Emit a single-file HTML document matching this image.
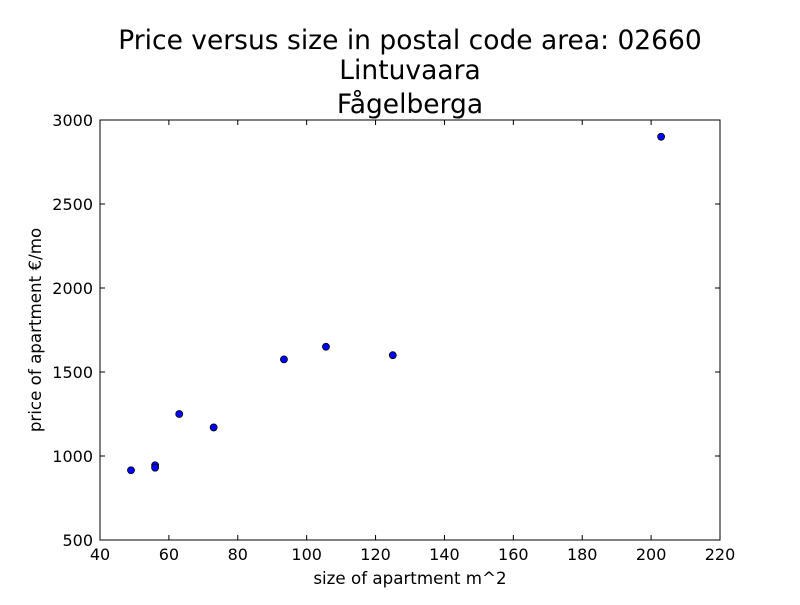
<!DOCTYPE html>
<html><head><meta charset="utf-8"><style>
body{margin:0;background:#fff}
svg text{font-family:"DejaVu Sans","Liberation Sans",sans-serif}
</style></head><body>
<svg width="800" height="600" viewBox="0 0 800 600">
<rect width="800" height="600" fill="#fff"/>
<g id="g"></g>
</svg>
<script>
const xs = [49, 56, 56, 63, 73, 93.4, 105.6, 125, 202.9];
const ys = [915, 945, 930, 1250, 1170, 1575, 1650, 1600, 2900];
const xTicks = [40,60,80,100,120,140,160,180,200,220];
const yTicks = [500,1000,1500,2000,2500,3000];
const L=100,R=720,T=120,B=540;
const sx=v=>L+(v-40)/180*(R-L);
const sy=v=>B-(v-500)/2500*(B-T);
const g=document.getElementById('g');
const NS='http://www.w3.org/2000/svg';
function mk(tag,attrs,txt){const e=document.createElementNS(NS,tag);for(const k in attrs)e.setAttribute(k,attrs[k]);if(txt!==undefined)e.textContent=txt;g.appendChild(e);return e;}
xTicks.forEach(v=>{
  const x=sx(v);
  const t1=mk('line',{x1:x,x2:x,y1:B,y2:B-5,stroke:'#000'});
  
  
  mk('line',{x1:x,x2:x,y1:T,y2:T+5,stroke:'#000'});
  const tl=mk('text',{x:x,y:B+20,'font-size':16,'text-anchor':'middle'},v);
  
  
});
yTicks.forEach(v=>{
  const y=sy(v);
  const t1=mk('line',{x1:L,x2:L+5,y1:y,y2:y,stroke:'#000'});
  
  
  mk('line',{x1:R,x2:R-5,y1:y,y2:y,stroke:'#000'});
  const tl=mk('text',{x:L-7,y:y+6,'font-size':16,'text-anchor':'end'},v);
  
  
});
xs.forEach((v,i)=>{
  const c=mk('circle',{cx:sx(v),cy:sy(ys[i]),r:3.5,fill:'#0000ff',stroke:'#000','stroke-width':0.8});
  
  
});
const fr=mk('rect',{x:L,y:T,width:R-L,height:B-T,fill:'none',stroke:'#000','stroke-width':1});


const titles=['Price versus size in postal code area: 02660','Lintuvaara','Fågelberga'];
[49,79,113].forEach((y,i)=>{
  const t=mk('text',{x:410,y:y,'font-size':26.5,'text-anchor':'middle'},titles[i]);
  
  
});
const xl=mk('text',{x:410,y:584,'font-size':16.7,'text-anchor':'middle'},'size of apartment m^2');


const yl=mk('text',{x:0,y:0,'font-size':16.7,'text-anchor':'middle',transform:'translate(41,330) rotate(-90)'},'price of apartment €/mo');


</script>
</body></html>
